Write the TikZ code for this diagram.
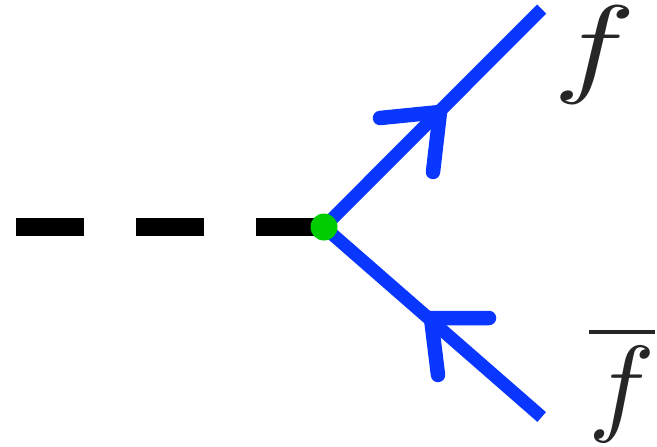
\documentclass[tikz,border=0pt]{standalone}
\usetikzlibrary{positioning}
\definecolor{fermionBlue}{HTML}{0A37FF}
\definecolor{vertexGreen}{HTML}{00CC00}

\begin{document}
\begin{tikzpicture}[
    x=1pt, y=-1pt,
    % Scalar Line
    scalar/.style={
        draw=black,
        line width=18pt,
        dash pattern=on 68pt off 52pt
    },
    % Fermion Lines
    fermion/.style={
        draw=fermionBlue,
        line width=13pt
    },
    % Arrow Head Strokes
    head/.style={
        draw=fermionBlue,
        line width=14.5pt,
        line cap=round,
        line join=miter
    },
    % Vertex Dot
    vertex/.style={
        circle,
        fill=vertexGreen,
        inner sep=0pt,
        minimum size=27pt
    },
    % Particle Labels
    particle/.style={
        text=black!85,
        inner sep=0pt
    }
]
\useasboundingbox (0,0) rectangle (657,447);

% --- COORDINATES ---
\coordinate (Start) at (16,227);
\coordinate (Center) at (324,227);
\coordinate (TopEnd) at (541.7,9);
\coordinate (BottomEnd) at (541.7,417);
\coordinate (TopTip) at (440,112);
\coordinate (BottomTip) at (431,318);
\coordinate (TopLeft) at (380,118);
\coordinate (TopRight) at (433,172);
\coordinate (BottomLeft) at (438,375);
\coordinate (BottomRight) at (489,318);

% --- LINES ---
\draw[scalar] (Start) -- (Center);
\draw[fermion] (Center) -- (TopEnd);
\draw[fermion] (Center) -- (BottomEnd);

% --- ARROW HEADS ---
\draw[head] (TopLeft) -- (TopTip) -- (TopRight);
\draw[head] (BottomRight) -- (BottomTip) -- (BottomLeft);

% --- VERTEX ---
\node[vertex] (Vertex) at (Center) {};

% --- LABELS ---
\node[particle, xscale=13.8, yscale=11] (LabelTop) at (595,55) {$f$};
\node[particle, xscale=11.2, yscale=10.8] (LabelBottom) at (622,384) {$\overline{f}$};
\end{tikzpicture}
\end{document}
